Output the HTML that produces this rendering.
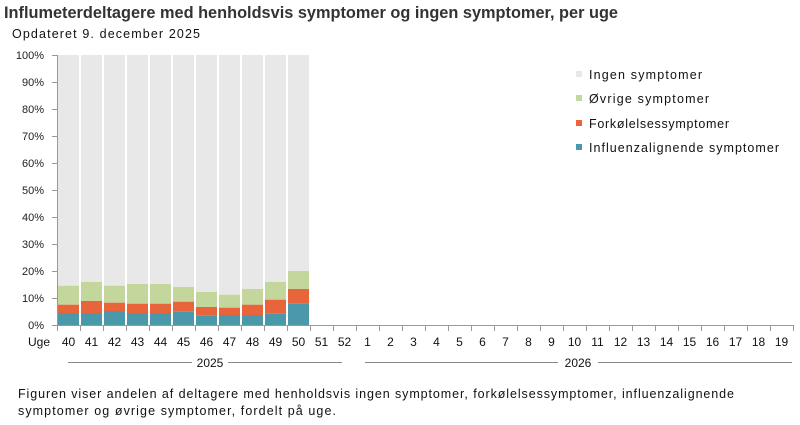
<!DOCTYPE html>
<html><head><meta charset="utf-8"><style>
body{margin:0;background:#fff;}
svg{display:block;font-family:"Century Gothic","Liberation Sans",sans-serif;}
</style></head><body>
<svg width="800" height="425" xmlns="http://www.w3.org/2000/svg">
<text x="4" y="18" font-size="16.5" font-weight="bold" fill="#333" textLength="614" lengthAdjust="spacingAndGlyphs">Influmeterdeltagere med henholdsvis symptomer og ingen symptomer, per uge</text>
<text x="12" y="38" font-size="12.5" fill="#111" textLength="188">Opdateret 9. december 2025</text>
<g font-size="11" fill="#222" text-anchor="end">
<text x="44" y="59">100%</text><text x="44" y="86">90%</text><text x="44" y="113">80%</text><text x="44" y="140">70%</text><text x="44" y="167">60%</text><text x="44" y="194">50%</text><text x="44" y="221">40%</text><text x="44" y="248">30%</text><text x="44" y="275">20%</text><text x="44" y="302">10%</text><text x="44" y="329">0%</text>
</g>
<g stroke="#999" stroke-width="1">
<line x1="57.5" y1="55" x2="57.5" y2="325"/>
<path d="M52 55.5H57M52 82.5H57M52 109.5H57M52 136.5H57M52 163.5H57M52 190.5H57M52 217.5H57M52 244.5H57M52 271.5H57M52 298.5H57M52 325.5H793"/>
</g>
<g fill="#e8e8e8">
<rect x="58" y="55" width="21" height="230.7"/><rect x="81" y="55" width="21" height="227"/><rect x="104" y="55" width="21" height="230.7"/><rect x="127" y="55" width="21" height="229"/><rect x="150" y="55" width="21" height="229"/><rect x="173" y="55" width="21" height="232"/><rect x="196" y="55" width="21" height="237"/><rect x="219" y="55" width="21" height="239.7"/><rect x="242" y="55" width="21" height="234"/><rect x="265" y="55" width="21" height="227"/><rect x="288" y="55" width="21" height="216"/>
</g>
<g fill="#c3d69b">
<rect x="58" y="285.7" width="21" height="19"/><rect x="81" y="282" width="21" height="19"/><rect x="104" y="285.7" width="21" height="17"/><rect x="127" y="284" width="21" height="19.7"/><rect x="150" y="284" width="21" height="19.7"/><rect x="173" y="287" width="21" height="14.7"/><rect x="196" y="292" width="21" height="15"/><rect x="219" y="294.7" width="21" height="13"/><rect x="242" y="289" width="21" height="15.7"/><rect x="265" y="282" width="21" height="17.7"/><rect x="288" y="271" width="21" height="18"/>
</g>
<g fill="#e8643a">
<rect x="58" y="304.7" width="21" height="8.3"/><rect x="81" y="301" width="21" height="12"/><rect x="104" y="302.7" width="21" height="8.3"/><rect x="127" y="303.7" width="21" height="9.3"/><rect x="150" y="303.7" width="21" height="9.3"/><rect x="173" y="301.7" width="21" height="10"/><rect x="196" y="307" width="21" height="8.7"/><rect x="219" y="307.7" width="21" height="7.3"/><rect x="242" y="304.7" width="21" height="10.3"/><rect x="265" y="299.7" width="21" height="14"/><rect x="288" y="289" width="21" height="14.7"/>
</g>
<g fill="#4a98aa">
<rect x="58" y="313" width="21" height="12"/><rect x="81" y="313" width="21" height="12"/><rect x="104" y="311" width="21" height="14"/><rect x="127" y="313" width="21" height="12"/><rect x="150" y="313" width="21" height="12"/><rect x="173" y="311.7" width="21" height="13.3"/><rect x="196" y="315.7" width="21" height="9.3"/><rect x="219" y="315" width="21" height="10"/><rect x="242" y="315" width="21" height="10"/><rect x="265" y="313.7" width="21" height="11.3"/><rect x="288" y="303.7" width="21" height="21.3"/>
</g>
<path stroke="#999" stroke-width="1" d="M57.5 325V331M80.5 325V331M103.5 325V331M126.5 325V331M149.5 325V331M172.5 325V331M195.5 325V331M218.5 325V331M241.5 325V331M264.5 325V331M287.5 325V331M310.5 325V331M333.5 325V331M356.5 325V331M379.5 325V331M402.5 325V331M425.5 325V331M448.5 325V331M471.5 325V331M494.5 325V331M517.5 325V331M540.5 325V331M563.5 325V331M586.5 325V331M609.5 325V331M632.5 325V331M655.5 325V331M678.5 325V331M701.5 325V331M724.5 325V331M747.5 325V331M770.5 325V331M793.5 325V331"/>
<g font-size="12" text-anchor="middle" fill="#111">
<text x="68.5" y="346">40</text><text x="91.5" y="346">41</text><text x="114.5" y="346">42</text><text x="137.5" y="346">43</text><text x="160.5" y="346">44</text><text x="183.5" y="346">45</text><text x="206.5" y="346">46</text><text x="229.5" y="346">47</text><text x="252.5" y="346">48</text><text x="275.5" y="346">49</text><text x="298.5" y="346">50</text><text x="321.5" y="346">51</text><text x="344.5" y="346">52</text><text x="367.5" y="346">1</text><text x="390.5" y="346">2</text><text x="413.5" y="346">3</text><text x="436.5" y="346">4</text><text x="459.5" y="346">5</text><text x="482.5" y="346">6</text><text x="505.5" y="346">7</text><text x="528.5" y="346">8</text><text x="551.5" y="346">9</text><text x="574.5" y="346">10</text><text x="597.5" y="346">11</text><text x="620.5" y="346">12</text><text x="643.5" y="346">13</text><text x="666.5" y="346">14</text><text x="689.5" y="346">15</text><text x="712.5" y="346">16</text><text x="735.5" y="346">17</text><text x="758.5" y="346">18</text><text x="781.5" y="346">19</text>
</g>
<text x="28" y="346" font-size="12" fill="#111">Uge</text>
<g stroke="#888" stroke-width="1">
<line x1="68" y1="362.5" x2="192" y2="362.5"/><line x1="228" y1="362.5" x2="342" y2="362.5"/>
<line x1="365" y1="362.5" x2="558" y2="362.5"/><line x1="598" y1="362.5" x2="792" y2="362.5"/>
</g>
<text x="210" y="367" font-size="12" text-anchor="middle" fill="#111">2025</text>
<text x="578" y="367" font-size="12" text-anchor="middle" fill="#111">2026</text>
<g font-size="12.5" fill="#111">
<rect x="576" y="71" width="6" height="6" fill="#e8e8e8"/><text x="589" y="79" textLength="113">Ingen symptomer</text>
<rect x="576" y="95" width="6" height="6" fill="#c3d69b"/><text x="589" y="103" textLength="120">Øvrige symptomer</text>
<rect x="576" y="120" width="6" height="6" fill="#e8643a"/><text x="589" y="128" textLength="140">Forkølelsessymptomer</text>
<rect x="576" y="144" width="6" height="6" fill="#4a98aa"/><text x="589" y="152" textLength="190">Influenzalignende symptomer</text>
</g>
<g font-size="12.5" fill="#111">
<text x="18" y="398" textLength="716">Figuren viser andelen af deltagere med henholdsvis ingen symptomer, forkølelsessymptomer, influenzalignende</text>
<text x="18" y="415" textLength="318">symptomer og øvrige symptomer, fordelt på uge.</text>
</g>
</svg>
</body></html>
